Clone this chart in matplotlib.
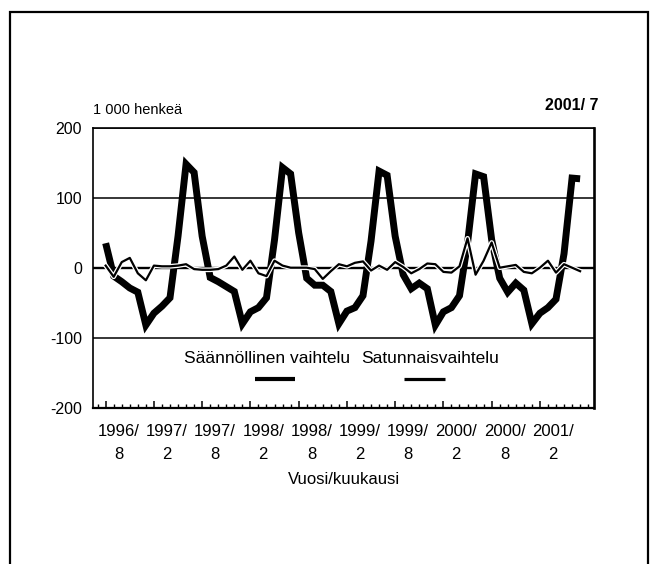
import matplotlib
matplotlib.use("Agg")
import matplotlib.pyplot as plt
import matplotlib.patheffects as pe
from matplotlib.patches import Rectangle
from matplotlib.lines import Line2D

# --------------------------
# Data: 1 000 persons, monthly 1996/8 .. 2001/7
# --------------------------
seasonal = [35, -12, -20, -29, -35, -82, -65, -55, -43, 45, 148, 136,
            45, -14, -20, -27, -34, -80, -63, -57, -43, 40, 143, 134,
            50, -15, -25, -25, -34, -80, -62, -57, -40, 38, 138, 132,
            45, -10, -30, -22, -30, -82, -63, -57, -40, 35, 134, 130,
            40, -15, -35, -22, -32, -80, -65, -57, -45, 20, 128, 127]

irregular = [3, -13, 8, 14, -8, -18, 3, 2, 2, 3, 5, -2,
             -3, -3, -2, 3, 16, -3, 10, -8, -12, 10, 3, 0,
             0, 0, -2, -16, -5, 5, 2, 7, 9, -4, 3, -3,
             8, 1, -8, -2, 6, 5, -6, -7, 2, 42, -10, 10,
             36, 0, 2, 4, -6, -8, 0, 10, -7, 5, 0, -5]

# month index of each labelled tick (0 = 1996/8)
label_months = [0, 6, 12, 18, 24, 30, 36, 42, 48, 54]
label_years = ["1996", "1997", "1997", "1998", "1998",
               "1999", "1999", "2000", "2000", "2001"]
label_mon = ["8", "2", "8", "2", "8", "2", "8", "2", "8", "2"]

y_ticks = [-200, -100, 0, 100, 200]

plt.rcParams['font.family'] = ['Liberation Sans', 'DejaVu Sans']

# --------------------------
# Figure and axes
# --------------------------
fig = plt.figure(figsize=(6.55, 5.64), dpi=100)
ax = fig.add_axes([0.1424, 0.2771, 0.765, 0.4965])

x = list(range(len(seasonal)))

ax.plot(x, seasonal, color='black', linewidth=5.0,
        solid_joinstyle='miter', solid_capstyle='butt', zorder=3)
ax.plot(x, irregular, color='black', linewidth=1.6, zorder=4,
        path_effects=[pe.Stroke(linewidth=3.4, foreground='white'), pe.Normal()])

ax.set_xlim(-1.54, 60.77)
ax.set_ylim(-200, 200)
ax.set_yticks(y_ticks)
ax.set_yticklabels([str(v) for v in y_ticks], fontsize=11.5)
ax.tick_params(axis='y', length=0, pad=8)

ax.grid(axis='y', color='black', linewidth=1.1, zorder=1)
ax.axhline(0, color='black', linewidth=1.7, zorder=2)

# x ticks: monthly minor marks, half-year major marks, labels set by hand
ax.set_xticks(label_months)
ax.set_xticklabels([])
ax.set_xticks(range(-1, 61), minor=True)
ax.tick_params(axis='x', which='major', direction='in', length=5, width=1.1)
ax.tick_params(axis='x', which='minor', direction='in', length=3, width=1.0)

for m, yr, mo in zip(label_months, label_years, label_mon):
    ax.annotate(f"{yr}/\n{mo}", xy=(m + 1.6, 0), xycoords=('data', 'axes fraction'),
                xytext=(0, -11.5), textcoords='offset points',
                ha='center', va='top', fontsize=12, linespacing=1.7)

ax.text(0.5, -0.255, "Vuosi/kuukausi", transform=ax.transAxes,
        ha='center', va='center', fontsize=12)

for side, lw in [('left', 1.2), ('top', 1.2), ('bottom', 1.6), ('right', 1.9)]:
    ax.spines[side].set_linewidth(lw)

# --------------------------
# Titles
# --------------------------
ax.text(0.0, 1.062, "1 000 henkeä", transform=ax.transAxes,
        ha='left', va='center', fontsize=10.5)
ax.text(1.008, 1.08, "2001/ 7", transform=ax.transAxes,
        ha='right', va='center', fontsize=11.5, fontweight='bold')

# --------------------------
# Legend (text above line sample)
# --------------------------
ax.text(0.347, 0.1775, "Säännöllinen vaihtelu", transform=ax.transAxes,
        ha='center', va='center', fontsize=12.5)
ax.text(0.672, 0.1775, "Satunnaisvaihtelu", transform=ax.transAxes,
        ha='center', va='center', fontsize=12.5)
ax.add_line(Line2D([0.322, 0.402], [0.1025, 0.1025], transform=ax.transAxes,
                   color='black', linewidth=3.0, solid_capstyle='butt'))
ax.add_line(Line2D([0.621, 0.701], [0.1025, 0.1025], transform=ax.transAxes,
                   color='black', linewidth=2.3, solid_capstyle='butt'))

# --------------------------
# Outer frame
# --------------------------
fig.add_artist(Rectangle((10 / 655, -0.05), (648 - 10) / 655, 1 - 12 / 564 + 0.05,
                         transform=fig.transFigure, fill=False,
                         edgecolor='black', linewidth=1.6))

fig.savefig("out.png", dpi=100)
